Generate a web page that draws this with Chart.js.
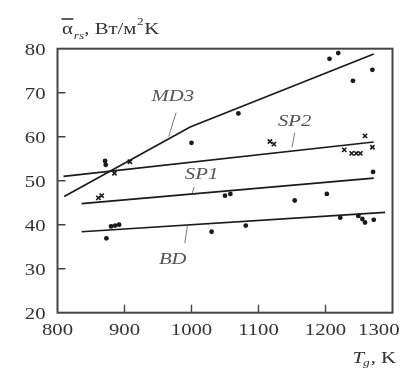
<!DOCTYPE html>
<html>
<head>
<meta charset="utf-8">
<script src="https://cdn.jsdelivr.net/npm/chart.js@4.4.1/dist/chart.umd.min.js"></script>
<style>
  html, body { margin: 0; padding: 0; background: #fff; }
  canvas { display: block; }
</style>
</head>
<body>
<canvas id="c" width="406" height="368"></canvas>
<script>
// Axis ranges and tick labels
const xTicks = [800, 900, 1000, 1100, 1200, 1300];
const yTicks = [20, 30, 40, 50, 60, 70, 80];

// Fitted correlation curves, [T, alpha]
const lineMD3 = [[810, 46.4], [998, 62.2], [1272, 78.8]];
const lineSP2 = [[809, 51.0], [1272, 58.8]];
const lineSP1 = [[836, 44.8], [1272, 50.6]];
const lineBD  = [[836, 38.4], [1289, 42.8]];

// Measured points (filled circles)
const dotsMD3 = [[871, 54.5], [872, 53.6], [1000, 58.6], [1070, 65.3], [1206, 77.7], [1219, 79.0], [1241, 72.7], [1270, 75.2]];
const dotsSP1 = [[1050, 46.6], [1058, 47.0], [1154, 45.5], [1202, 47.0], [1271, 52.0]];
const dotsBD  = [[873, 36.9], [880, 39.6], [886, 39.8], [892, 40.0], [1030, 38.4], [1081, 39.8],
                 [1222, 41.6], [1249, 42.0], [1255, 41.3], [1259, 40.5], [1272, 41.1]];

// Measured points (crosses)
const crossSP2 = [[885, 51.7], [908, 54.3], [1117, 58.9], [1123, 58.3], [1228, 57.0], [1239, 56.2],
                  [1246, 56.2], [1252, 56.2], [1259, 60.2], [1270, 57.6]];
const crossSP1 = [[861, 46.1], [866, 46.6]];

// Curve labels: text, label anchor, leader start, leader end
const curveLabels = [
  { text: 'MD3', at: [972, 69.1], from: [977, 65.5], to: [966, 60.0] },
  { text: 'SP2', at: [1154, 63.4], from: [1154, 60.9], to: [1150, 57.6] },
  { text: 'SP1', at: [1015, 51.3], from: [1004, 48.6], to: [1001, 47.1] },
  { text: 'BD',  at: [972, 32.0],  from: [990, 35.8], to: [994, 39.8] }
];

const toXY = arr => arr.map(p => ({ x: p[0], y: p[1] }));
const INK = '#1a1a1a';
const TXT = '#333';
const STRETCH = 1.22;
const SERIF = '"Liberation Serif", "Times New Roman", serif';

function lineDs(data) {
  return { data: toXY(data), showLine: true, pointRadius: 0, borderColor: INK,
           borderWidth: 1.7, tension: 0, fill: false };
}
function dotDs(data) {
  return { data: toXY(data), showLine: false, pointRadius: 2.4, pointStyle: 'circle',
           backgroundColor: INK, borderColor: INK, borderWidth: 0 };
}
function crossDs(data) {
  return { data: toXY(data), showLine: false, pointRadius: 3, pointStyle: 'crossRot',
           borderColor: INK, borderWidth: 1.6 };
}

// Text drawn with a slight horizontal stretch, like the printed serif face
function sText(ctx, text, x, y, font, align, baseline, color) {
  ctx.save();
  ctx.font = font;
  ctx.fillStyle = color || TXT;
  ctx.textBaseline = baseline || 'alphabetic';
  const w = ctx.measureText(text).width * STRETCH;
  let x0 = x;
  if (align === 'center') x0 = x - w / 2;
  else if (align === 'right') x0 = x - w;
  ctx.translate(x0, y);
  ctx.scale(STRETCH, 1);
  ctx.textAlign = 'left';
  ctx.fillText(text, 0, 0);
  ctx.restore();
  return w;
}

const framePlugin = {
  id: 'frame',
  afterDraw(chart) {
    const { ctx, chartArea: a, scales: { x, y } } = chart;
    ctx.save();
    // frame
    ctx.strokeStyle = '#444';
    ctx.lineWidth = 2;
    ctx.strokeRect(a.left, a.top, a.right - a.left, a.bottom - a.top);
    // inward ticks
    ctx.lineWidth = 1.4;
    ctx.beginPath();
    xTicks.forEach(v => {
      const px = x.getPixelForValue(v);
      if (px > a.left + 2 && px < a.right - 2) { ctx.moveTo(px, a.bottom); ctx.lineTo(px, a.bottom - 8); }
    });
    yTicks.forEach(v => {
      const py = y.getPixelForValue(v);
      if (py > a.top + 2 && py < a.bottom - 2) { ctx.moveTo(a.left, py); ctx.lineTo(a.left + 8, py); }
    });
    ctx.stroke();
    ctx.restore();

    const tf = '17px ' + SERIF;
    xTicks.forEach((v, i) => {
      const last = i === xTicks.length - 1;
      // the last label is pulled inside the canvas edge
      if (last) sText(ctx, String(v), a.right + 7, a.bottom + 22.5, tf, 'right');
      else sText(ctx, String(v), x.getPixelForValue(v), a.bottom + 22.5, tf, 'center');
    });
    yTicks.forEach(v => sText(ctx, String(v), a.left - 12, y.getPixelForValue(v) + 1.5, tf, 'right', 'middle'));

    // curve labels with leaders
    const lf = 'italic 17px ' + SERIF;
    ctx.save();
    ctx.strokeStyle = '#777';
    ctx.lineWidth = 1;
    curveLabels.forEach(l => {
      ctx.beginPath();
      ctx.moveTo(x.getPixelForValue(l.from[0]), y.getPixelForValue(l.from[1]));
      ctx.lineTo(x.getPixelForValue(l.to[0]), y.getPixelForValue(l.to[1]));
      ctx.stroke();
      sText(ctx, l.text, x.getPixelForValue(l.at[0]), y.getPixelForValue(l.at[1]), lf, 'center', 'middle', '#555');
    });
    ctx.restore();

    // y-axis title: overlined alpha with subscript, units
    const mf = '17px ' + SERIF;
    const sf = 'italic 11px ' + SERIF;
    const nf = '11px ' + SERIF;
    let cx = 62, base = 33.5;
    const wa = sText(ctx, 'α', cx, base, mf);
    ctx.save();
    ctx.strokeStyle = TXT; ctx.lineWidth = 1.6;
    ctx.beginPath(); ctx.moveTo(cx - 0.5, 19); ctx.lineTo(cx + wa + 0.5, 19); ctx.stroke();
    ctx.restore();
    cx += wa + 1;
    cx += sText(ctx, 'rs', cx, base + 5, sf);
    cx += sText(ctx, ', Вт/м', cx, base, mf);
    cx += sText(ctx, '2', cx + 0.5, base - 9, nf) + 1;
    sText(ctx, 'K', cx, base, mf);

    // x-axis title
    let tx = 352.5, tb = 363;
    tx += sText(ctx, 'T', tx, tb, 'italic 17px ' + SERIF);
    tx += sText(ctx, 'g', tx - 1, tb + 3, sf);
    sText(ctx, ', K', tx, tb, mf);
  }
};

new Chart(document.getElementById('c'), {
  type: 'scatter',
  data: {
    datasets: [
      lineDs(lineMD3), lineDs(lineSP2), lineDs(lineSP1), lineDs(lineBD),
      dotDs(dotsMD3), dotDs(dotsSP1), dotDs(dotsBD),
      crossDs(crossSP2), crossDs(crossSP1)
    ]
  },
  options: {
    responsive: false,
    devicePixelRatio: 1,
    animation: false,
    layout: { padding: { left: 57.5, right: 13.5, top: 48.7, bottom: 55.3 } },
    plugins: { legend: { display: false }, tooltip: { enabled: false } },
    scales: {
      x: { type: 'linear', min: 800, max: 1300, display: false },
      y: { type: 'linear', min: 20, max: 80, display: false }
    }
  },
  plugins: [framePlugin]
});
</script>
</body>
</html>
